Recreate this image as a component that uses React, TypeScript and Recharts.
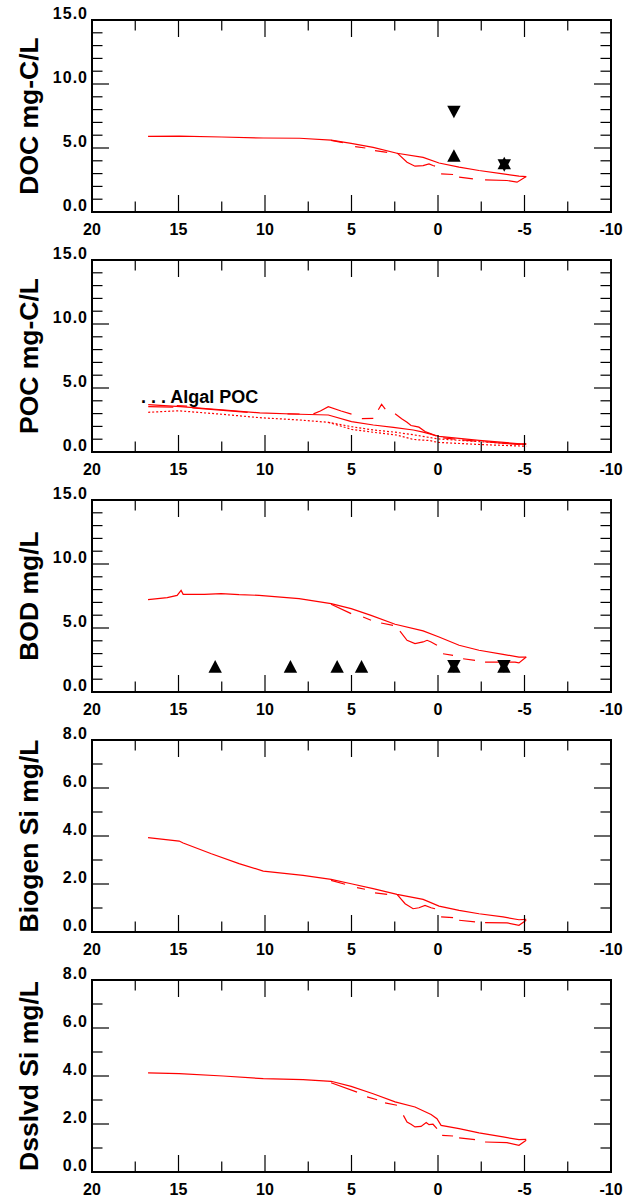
import React from 'react';
import { ComposedChart, Line, Scatter, XAxis, YAxis } from 'recharts';

type Pt = [number, number] | null;

const xTicks = [20, 17.5, 15, 12.5, 10, 7.5, 5, 2.5, 0, -2.5, -5, -7.5, -10];
const yTicks15 = [0, 1, 2, 3, 4, 5, 6, 7, 8, 9, 10, 11, 12, 13, 14, 15];
const yTicks8 = [0, 1, 2, 3, 4, 5, 6, 7, 8];

// ---- DOC mg-C/L
const docRunA: Pt[] = [
  [16.76, 5.91], [14.96, 5.93], [12.5, 5.86], [10.1, 5.78], [8.0, 5.76], [6.18, 5.62], [5.02, 5.36],
  [3.75, 5.05], [2.37, 4.59], [0.86, 4.27], [-0.06, 3.83], [-1.22, 3.5], [-2.37, 3.24], [-3.76, 2.98],
  [-4.68, 2.8], [-5.1, 2.77],
];
const docRunB: Pt[] = [
  [6.18, 5.6], [5.5, 5.42], null, [4.79, 5.1], [4.2, 5.0], null, [3.64, 4.79], [2.94, 4.66], null,
  [2.37, 4.62], [1.79, 3.89], [1.33, 3.58], [0.86, 3.63], [0.52, 3.76], [0.29, 3.63], [0.17, 3.58], null,
  [-0.18, 2.98], [-0.87, 2.93], null, [-1.22, 2.72], [-2.02, 2.59], null, [-2.72, 2.51], [-3.99, 2.46],
  [-4.57, 2.33], [-5.1, 2.77],
];
const docObsUp: [number, number][] = [[-0.92, 4.41], [-3.83, 3.83]];
const docObsDown: [number, number][] = [[-0.92, 7.81], [-3.83, 3.63]];

// ---- POC mg-C/L
const pocRunA: Pt[] = [
  [16.75, 3.7], [14.9, 3.55], [12.5, 3.3], [10.3, 3.05], [8.0, 2.95], [6.34, 2.89], [5.0, 2.37],
  [3.74, 2.11], [2.58, 1.93], [1.43, 1.72], [0.86, 1.55], [-0.06, 1.22], [-2.37, 0.91], [-5.1, 0.6],
];
const pocRunB: Pt[] = [
  [16.75, 3.55], [15.3, 3.5], null, [15.1, 3.62], [14.5, 3.58], null, [14.2, 3.45], [11.0, 3.1], null,
  [8.7, 2.98], [8.0, 2.97], null, [7.2, 2.98], [6.8, 3.2], [6.34, 3.54], [5.6, 3.2], [5.0, 2.96], null,
  [4.4, 2.6], [3.74, 2.62], null, [3.45, 3.3], [3.26, 3.72], [3.05, 3.35], null, [2.48, 2.98], [2.1, 2.6],
  [1.79, 2.33], [1.56, 2.07], [1.3, 2.0], [1.1, 1.94], [0.75, 1.6], [0.4, 1.42], [0.1, 1.25], null,
  [-0.3, 1.1], [-1.0, 1.0], null, [-1.4, 0.95], [-2.2, 0.85], null, [-2.7, 0.8], [-4.0, 0.66],
  [-4.6, 0.6], [-5.1, 0.65],
];
const pocAlgal1: Pt[] = [
  [16.75, 3.1], [15.0, 3.22], [12.5, 2.95], [10.3, 2.68], [8.0, 2.5], [6.34, 2.32], [5.0, 1.98],
  [3.74, 1.72], [2.5, 1.55], [1.43, 1.35], [0.0, 1.02], [-2.5, 0.8], [-5.1, 0.58],
];
const pocAlgal2: Pt[] = [
  [6.34, 2.32], [5.0, 1.77], [3.74, 1.54], [2.4, 1.33], [1.43, 0.98], [0.5, 0.9], [0.0, 0.75],
  [-2.5, 0.58], [-5.1, 0.45],
];

// ---- BOD mg/L
const bodRunA: Pt[] = [
  [16.76, 7.21], [15.65, 7.37], [15.08, 7.55], [14.85, 7.94], [14.73, 7.63], [13.5, 7.62], [12.53, 7.68],
  [11.5, 7.6], [10.34, 7.55], [8.03, 7.29], [6.18, 6.9], [5.02, 6.51], [3.87, 5.99], [2.48, 5.29],
  [0.86, 4.77], [-0.06, 4.3], [-1.22, 3.65], [-2.37, 3.26], [-3.76, 2.94], [-4.68, 2.73], [-5.1, 2.73],
];
const bodRunB: Pt[] = [
  [6.18, 6.85], [5.02, 6.12], null, [4.33, 5.86], [3.87, 5.6], null, [3.29, 5.39], [2.6, 5.21], null,
  [2.2, 4.75], [1.79, 4.04], [1.33, 3.78], [0.86, 3.91], [0.63, 4.04], [0.4, 3.91], [0.06, 3.65], null,
  [-0.29, 2.99], [-0.87, 2.86], null, [-1.45, 2.6], [-2.14, 2.47], null, [-2.72, 2.34], [-4.45, 2.34],
  [-4.68, 2.27], [-5.1, 2.73],
];
const bodObsUp: [number, number][] = [[12.88, 2.0], [8.53, 2.0], [5.83, 2.0], [4.42, 2.0], [-0.92, 2.0], [-3.81, 2.0]];
const bodObsDown: [number, number][] = [[-0.92, 2.0], [-3.81, 2.0]];

// ---- Biogen Si mg/L
const bsiRunA: Pt[] = [
  [16.76, 3.93], [14.96, 3.79], [14.73, 3.71], [13.1, 3.26], [11.5, 2.85], [10.1, 2.54], [7.8, 2.36],
  [6.18, 2.19], [5.02, 2.01], [3.75, 1.81], [2.37, 1.57], [0.86, 1.36], [-0.06, 1.08], [-1.22, 0.9],
  [-2.37, 0.76], [-3.76, 0.63], [-4.68, 0.51], [-5.1, 0.53],
];
const bsiRunB: Pt[] = [
  [6.18, 2.15], [5.37, 1.99], null, [4.68, 1.85], [4.22, 1.78], null, [3.64, 1.63], [2.94, 1.57], null,
  [2.37, 1.57], [1.9, 1.18], [1.44, 0.97], [1.1, 1.01], [0.75, 1.11], [0.4, 1.01], [0.17, 0.97], null,
  [-0.18, 0.63], [-0.87, 0.6], null, [-1.22, 0.49], [-2.14, 0.42], null, [-2.72, 0.39], [-3.99, 0.38],
  [-4.68, 0.28], [-5.1, 0.49],
];

// ---- Dsslvd Si mg/L
const dsiRunA: Pt[] = [
  [16.76, 4.13], [14.96, 4.1], [12.42, 4.0], [10.1, 3.89], [7.8, 3.85], [6.18, 3.78], [5.02, 3.57],
  [3.75, 3.26], [2.48, 2.92], [1.33, 2.71], [0.4, 2.4], [0.06, 2.22], [-0.18, 1.94], [-1.22, 1.81],
  [-2.37, 1.63], [-3.76, 1.46], [-4.68, 1.35], [-5.1, 1.36],
];
const dsiRunB: Pt[] = [
  [6.18, 3.72], [4.68, 3.33], null, [4.1, 3.13], [3.52, 3.01], null, [3.06, 2.88], [2.37, 2.78], null,
  [2.0, 2.36], [1.79, 2.08], [1.56, 1.99], [1.33, 1.88], [0.98, 1.9], [0.68, 2.06], [0.52, 1.97],
  [0.29, 1.99], [0.06, 1.81], null, [-0.24, 1.53], [-0.87, 1.5], null, [-1.22, 1.42], [-2.14, 1.35], null,
  [-2.72, 1.25], [-3.99, 1.22], [-4.68, 1.11], [-5.1, 1.32],
];

const FONT = '"Liberation Sans", Arial, Helvetica, sans-serif';
const RED = '#ff0000';

const toData = (pts: Pt[]) => {
  const out: { x: number; y: number | null }[] = [];
  let lastX = 0;
  for (const p of pts) {
    if (p) {
      out.push({ x: p[0], y: p[1] });
      lastX = p[0];
    } else {
      out.push({ x: lastX, y: null });
    }
  }
  return out;
};
const toObs = (pts: [number, number][]) => pts.map(([x, y]) => ({ x, y }));

const TriUp = (p: any) => {
  const { cx, cy } = p;
  return <path d={`M${cx},${cy - 6.3}L${cx + 6.7},${cy + 6.3}L${cx - 6.7},${cy + 6.3}Z`} fill="#000" />;
};
const TriDown = (p: any) => {
  const { cx, cy } = p;
  return <path d={`M${cx},${cy + 6.3}L${cx + 6.7},${cy - 6.3}L${cx - 6.7},${cy - 6.3}Z`} fill="#000" />;
};

const MAJ = 17;
const MIN = 10.5;

const BottomTick = (p: any) => {
  const { x, y, payload } = p;
  const v = payload.value;
  const major = Math.abs(v % 5) < 1e-9;
  return (
    <g>
      <line x1={x} x2={x} y1={y} y2={y - (major ? MAJ : MIN)} stroke="#000" strokeWidth={1.2} />
      {major && (
        <text x={x} y={y + 23} textAnchor="middle" fontFamily={FONT} fontWeight="bold" fontSize={16} fill="#000">
          {String(v)}
        </text>
      )}
    </g>
  );
};
const TopTick = (p: any) => {
  const { x, y, payload } = p;
  const v = payload.value;
  const major = Math.abs(v % 5) < 1e-9;
  return <line x1={x} x2={x} y1={y} y2={y + (major ? MAJ : MIN)} stroke="#000" strokeWidth={1.2} />;
};
const makeLeftTick = (step: number) => (p: any) => {
  const { x, y, payload } = p;
  const v = payload.value;
  const major = Math.abs(v % step) < 1e-9;
  return (
    <g>
      <line x1={x} x2={x + (major ? MAJ : MIN)} y1={y} y2={y} stroke="#000" strokeWidth={1.2} />
      {major && (
        <text
          x={x - 4}
          y={y - 1}
          textAnchor="end"
          fontFamily={FONT}
          fontWeight="bold"
          fontSize={16}
          letterSpacing={1}
          fill="#000"
        >
          {v.toFixed(1)}
        </text>
      )}
    </g>
  );
};
const makeRightTick = (step: number) => (p: any) => {
  const { x, y, payload } = p;
  const v = payload.value;
  const major = Math.abs(v % step) < 1e-9;
  return <line x1={x} x2={x - (major ? MAJ : MIN)} y1={y} y2={y} stroke="#000" strokeWidth={1.2} />;
};

type Series = { pts: Pt[]; dash?: string };

type PanelProps = {
  title: string;
  yMax: number;
  yStep: number;
  yTicks: number[];
  series: Series[];
  up?: [number, number][];
  down?: [number, number][];
  legend?: boolean;
};

const frame = { stroke: '#000', strokeWidth: 2, strokeLinecap: 'square' as const };

function Panel({ title, yMax, yStep, yTicks, series, up, down, legend }: PanelProps) {
  return (
    <div style={{ position: 'relative', width: 626, height: 240 }}>
      <ComposedChart width={626} height={240} margin={{ top: 0, right: 0, bottom: 0, left: 0 }}>
        <XAxis
          xAxisId="b"
          orientation="bottom"
          type="number"
          dataKey="x"
          domain={[-10, 20]}
          reversed
          allowDataOverflow
          ticks={xTicks}
          interval={0}
          height={28}
          tickSize={0}
          tickMargin={0}
          tickLine={false}
          axisLine={frame}
          tick={BottomTick}
        />
        <XAxis
          xAxisId="t"
          orientation="top"
          type="number"
          dataKey="x"
          domain={[-10, 20]}
          reversed
          allowDataOverflow
          ticks={xTicks}
          interval={0}
          height={20}
          tickSize={0}
          tickMargin={0}
          tickLine={false}
          axisLine={frame}
          tick={TopTick}
        />
        <YAxis
          yAxisId="l"
          orientation="left"
          type="number"
          dataKey="y"
          domain={[0, yMax]}
          allowDataOverflow
          ticks={yTicks}
          interval={0}
          width={92}
          tickSize={0}
          tickMargin={0}
          tickLine={false}
          axisLine={frame}
          tick={makeLeftTick(yStep)}
        />
        <YAxis
          yAxisId="r"
          orientation="right"
          type="number"
          domain={[0, yMax]}
          allowDataOverflow
          ticks={yTicks}
          interval={0}
          width={15}
          tickSize={0}
          tickMargin={0}
          tickLine={false}
          axisLine={frame}
          tick={makeRightTick(yStep)}
        />
        {series.map((s, i) => (
          <Line
            key={i}
            xAxisId="b"
            yAxisId="l"
            data={toData(s.pts)}
            dataKey="y"
            type="linear"
            stroke={RED}
            strokeWidth={1.2}
            strokeDasharray={s.dash}
            dot={false}
            activeDot={false}
            connectNulls={false}
            isAnimationActive={false}
          />
        ))}
        {up && (
          <Scatter xAxisId="b" yAxisId="l" data={toObs(up)} dataKey="y" shape={TriUp} isAnimationActive={false} />
        )}
        {down && (
          <Scatter xAxisId="b" yAxisId="l" data={toObs(down)} dataKey="y" shape={TriDown} isAnimationActive={false} />
        )}
      </ComposedChart>
      <svg width={626} height={240} style={{ position: 'absolute', left: 0, top: 0, pointerEvents: 'none' }}>
        <text
          x={38}
          y={116}
          transform="rotate(-90 38 116)"
          textAnchor="middle"
          fontFamily={FONT}
          fontWeight="bold"
          fontSize={26.5}
          fill="#000"
        >
          {title}
        </text>
        {legend && (
          <text x={141} y={163} fontFamily={FONT} fontWeight="bold" fontSize={18} fill="#000">
            . . . Algal POC
          </text>
        )}
      </svg>
    </div>
  );
}

export default function App() {
  return (
    <div style={{ position: 'absolute', left: 0, top: 0, width: 626, height: 1201, background: '#fff' }}>
      <Panel
        title="DOC mg-C/L"
        yMax={15}
        yStep={5}
        yTicks={yTicks15}
        series={[{ pts: docRunA }, { pts: docRunB }]}
        up={docObsUp}
        down={docObsDown}
      />
      <Panel
        title="POC mg-C/L"
        yMax={15}
        yStep={5}
        yTicks={yTicks15}
        series={[
          { pts: pocRunA },
          { pts: pocRunB },
          { pts: pocAlgal1, dash: '2 2' },
          { pts: pocAlgal2, dash: '2 2' },
        ]}
        legend
      />
      <Panel
        title="BOD mg/L"
        yMax={15}
        yStep={5}
        yTicks={yTicks15}
        series={[{ pts: bodRunA }, { pts: bodRunB }]}
        up={bodObsUp}
        down={bodObsDown}
      />
      <Panel
        title="Biogen Si mg/L"
        yMax={8}
        yStep={2}
        yTicks={yTicks8}
        series={[{ pts: bsiRunA }, { pts: bsiRunB }]}
      />
      <Panel
        title="Dsslvd Si mg/L"
        yMax={8}
        yStep={2}
        yTicks={yTicks8}
        series={[{ pts: dsiRunA }, { pts: dsiRunB }]}
      />
    </div>
  );
}
